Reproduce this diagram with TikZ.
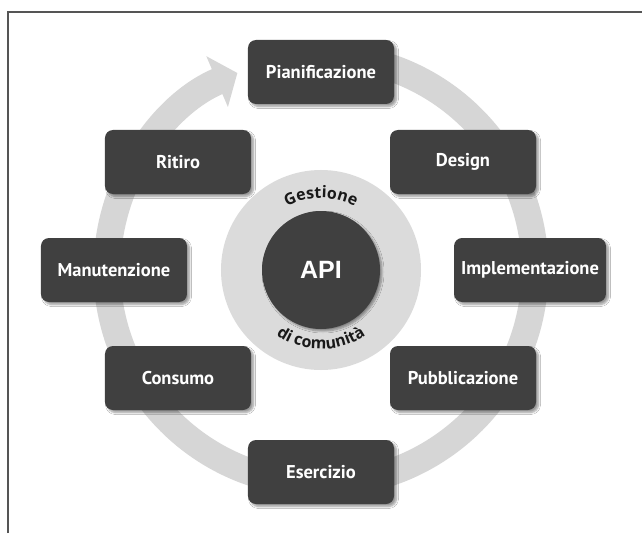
\documentclass[tikz,border=0pt]{standalone}
\usepackage{fontspec}
\setsansfont{PT Sans}
\newfontfamily\apifont{Liberation Sans}
\newfontfamily\anellofont{Open Sans}
\usepackage{tikz}
\usetikzlibrary{positioning}
\usetikzlibrary{arrows.meta,shadows.blur,decorations.text}
\definecolor{fasegray}{HTML}{404040}
\definecolor{anellogray}{HTML}{D6D6D6}
\definecolor{discogray}{HTML}{DBDBDB}
\definecolor{cornicegray}{HTML}{555555}

\begin{document}
\begin{tikzpicture}[x=1pt, y=1pt,
		fase/.style={fill=fasegray, rounded corners=8pt, minimum width=146pt, minimum height=64pt,
			inner xsep=7pt, text=white, font=\sffamily\bfseries\fontsize{18.5}{22}\selectfont,
			blur shadow={shadow xshift=2.5pt, shadow yshift=-2.5pt, shadow blur steps=6}},
		ciclo/.style={line width=27pt, draw=anellogray, -{Triangle[length=22pt, width=54pt]}},
		curva/.style={decorate, decoration={text along path, text align=center, text color=black!90}}]
			\sffamily
			\useasboundingbox (-321,-263) rectangle (321,270);
			\fill[white] (-321,-263) rectangle (321,270);
			\draw[cornicegray, line width=2pt] (-313,-263) -- (-313,258) -- (321,258);
			% the big cycle arrow, clockwise back to the top
			\draw[ciclo] (82:214pt) arc[start angle=82, end angle=-247, radius=214pt];
			\node[circle, fill=discogray, minimum size=200pt] (Hub) at (0,0) {};
			\node[circle, fill=fasegray, minimum size=118pt, text=white,
				font=\apifont\bfseries\fontsize{25}{30}\selectfont,
				blur shadow={shadow xshift=2pt, shadow yshift=-2pt, shadow blur steps=6}] (API) at (0,0) {API};
			\node[fase, above of=API, node distance=198pt] (Pianif) {Pianificazione};
			\node[fase] (Design) at (142,108) {Design};
			\node[fase, right of=API, node distance=209pt] (Impl) {Implementazione};
			\node[fase] (Pubbl) at (142,-108) {Pubblicazione};
			\node[fase, below of=API, node distance=202pt] (Eserc) {Esercizio};
			\node[fase] (Consumo) at (-143,-108) {Consumo};
			\node[fase, left of=API, node distance=207pt] (Manut) {Manutenzione};
			\node[fase] (Ritiro) at (-143,108) {Ritiro};
			% curved labels on the grey ring
			\path[curva, decoration={text={|\anellofont\bfseries\fontsize{16}{19}\selectfont|Gestione}}]
				(160:72pt) arc[start angle=160, end angle=20, radius=72pt];
			\path[curva, decoration={text={|\anellofont\bfseries\fontsize{16}{19}\selectfont|di comunità}}]
				(200:79pt) arc[start angle=200, end angle=340, radius=79pt];
		\end{tikzpicture}
\end{document}
